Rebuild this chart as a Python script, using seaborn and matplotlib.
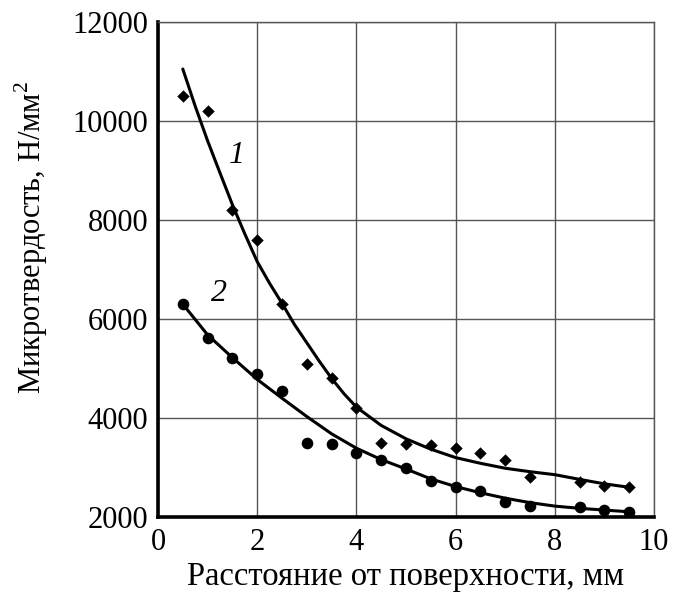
import matplotlib
matplotlib.use("Agg")
import matplotlib.pyplot as plt
import seaborn as sns
import pandas as pd

# measured points, series 1 (diamonds)
x_pts1 = [0.5, 1.0, 1.5, 2.0, 2.5, 3.0, 3.5, 4.0, 4.5, 5.0, 5.5, 6.0, 6.5, 7.0, 7.5, 8.5, 9.0, 9.5]
y_pts1 = [10500, 10200, 8200, 7600, 6300, 5100, 4800, 4200, 3490, 3480, 3450, 3400, 3300, 3150, 2800, 2700, 2630, 2600]

# measured points, series 2 (circles)
x_pts2 = [0.5, 1.0, 1.5, 2.0, 2.5, 3.0, 3.5, 4.0, 4.5, 5.0, 5.5, 6.0, 6.5, 7.0, 7.5, 8.5, 9.0, 9.5]
y_pts2 = [6300, 5610, 5210, 4880, 4550, 3490, 3470, 3290, 3160, 2990, 2730, 2610, 2530, 2310, 2220, 2200, 2140, 2110]

# fitted curve 1
cx1 = [0.5, 0.75, 1.0, 1.25, 1.5, 1.75, 2.0, 2.25, 2.5, 2.75, 3.0, 3.25, 3.5, 3.75, 4.0,
       4.5, 5.0, 5.5, 6.0, 6.5, 7.0, 7.5, 8.0, 8.5, 9.0, 9.5]
cy1 = [11050, 10300, 9600, 8950, 8310, 7720, 7160, 6720, 6317, 5890, 5520, 5150, 4800, 4490, 4220,
       3850, 3580, 3370, 3200, 3085, 2985, 2915, 2855, 2760, 2670, 2600]

# fitted curve 2
cx2 = [0.5, 1.0, 1.5, 2.0, 2.5, 3.0, 3.5, 4.0, 4.5, 5.0, 5.5, 6.0, 6.5, 7.0, 7.5, 8.0, 8.5, 9.0, 9.5]
cy2 = [6300, 5680, 5220, 4780, 4400, 4030, 3680, 3390, 3160, 2970, 2770, 2615, 2490, 2380, 2290, 2220, 2175, 2140, 2105]

x_ticks = [0, 2, 4, 6, 8, 10]
y_ticks = [2000, 4000, 6000, 8000, 10000, 12000]
curve_labels = ["1", "2"]
label_pos_x = [1.59, 1.22]
label_pos_y = [9313, 6519]

xlabel = "Расстояние от поверхности, мм"
ylabel = "Микротвердость, Н/мм$^2$"

sns.set_theme(style="white")
plt.rcParams["font.family"] = ["Liberation Serif", "DejaVu Serif"]
plt.rcParams["mathtext.fontset"] = "custom"
plt.rcParams["mathtext.rm"] = "Liberation Serif"

fig = plt.figure(figsize=(6.73, 5.94), dpi=100)
ax = fig.add_axes([158 / 673, 1 - 517 / 594, (654 - 158) / 673, (517 - 22) / 594])

df_p1 = pd.DataFrame({"x": x_pts1, "y": y_pts1})
df_p2 = pd.DataFrame({"x": x_pts2, "y": y_pts2})
df_c1 = pd.DataFrame({"x": cx1, "y": cy1})
df_c2 = pd.DataFrame({"x": cx2, "y": cy2})

sns.lineplot(data=df_c1, x="x", y="y", ax=ax, color="black", linewidth=2.2, sort=True, zorder=3)
sns.lineplot(data=df_c2, x="x", y="y", ax=ax, color="black", linewidth=2.2, sort=True, zorder=3)
sns.scatterplot(data=df_p1, x="x", y="y", ax=ax, marker="D", color="black", s=40, edgecolor="black", linewidth=0, zorder=4)
sns.scatterplot(data=df_p2, x="x", y="y", ax=ax, marker="o", color="black", s=70, edgecolor="black", linewidth=0, zorder=4)

for lab, lx, ly in zip(curve_labels, label_pos_x, label_pos_y):
    ax.text(lx, ly, lab, fontsize=23, style="italic", ha="center", va="center", color="black")

ax.set_xlim(0, 10)
ax.set_ylim(2000, 12000)
ax.set_xticks(x_ticks)
ax.set_yticks(y_ticks)
ax.set_xticklabels([str(v) for v in x_ticks])
ax.set_yticklabels([str(v) for v in y_ticks])
ax.tick_params(axis="both", length=0, labelsize=22, colors="black")
ax.tick_params(axis="x", pad=8)
ax.tick_params(axis="y", pad=7)

ax.grid(True, color="#555555", linewidth=1.0)
ax.set_axisbelow(True)
for side in ["top", "right"]:
    ax.spines[side].set_visible(True)
    ax.spines[side].set_color("#555555")
    ax.spines[side].set_linewidth(1.0)
for side in ["left", "bottom"]:
    ax.spines[side].set_visible(True)
    ax.spines[side].set_color("black")
    ax.spines[side].set_linewidth(2.6)

ax.set_xlabel(xlabel, fontsize=23.5, color="black", labelpad=3)
ax.set_ylabel(ylabel, fontsize=22, color="black")
ax.yaxis.set_label_coords(-0.218, 0.565)

fig.savefig("out.png", dpi=100)
